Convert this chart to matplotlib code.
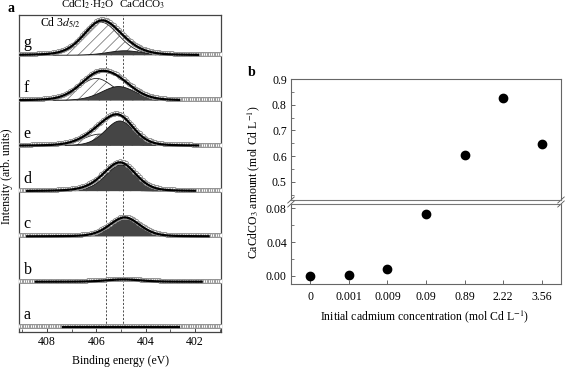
"""
Cd 3d5/2 XPS spectra (a-g) and CaCdCO3 amount vs. initial Cd concentration.
"""
import numpy as np
import matplotlib
matplotlib.use('Agg')
import matplotlib.pyplot as plt

plt.rcParams['font.family'] = ['Liberation Serif', 'DejaVu Serif']
plt.rcParams['mathtext.fontset'] = 'stix'
plt.rcParams['hatch.linewidth'] = 0.5

# ---- panel a: fitted XPS components (peak centre eV, height arb., sigma eV) ----
samples = ['a', 'b', 'c', 'd', 'e', 'f', 'g']
cl_center = [405.8, 405.8, 405.8, 405.7, 405.85, 406.0, 405.8]
cl_height = [0.0, 0.0, 0.0, 0.09, 0.26, 0.49, 0.73]
cl_sigma = [0.7, 0.7, 0.7, 0.7, 0.7, 0.72, 0.72]
co_center = [404.9, 404.9, 404.85, 405.0, 405.05, 405.1, 404.85]
co_height = [0.0, 0.05, 0.42, 0.58, 0.55, 0.31, 0.10]
co_sigma = [0.7, 0.7, 0.62, 0.62, 0.6, 0.7, 0.7]
fit_lo = [402.6, 401.7, 401.45, 402.0, 401.85, 402.6, 401.85]
fit_hi = [407.35, 408.5, 408.8, 408.8, 409.1, 409.1, 409.1]
ref_lines = [405.6, 404.9]

# ---- panel b ----
conc_labels = ['0', '0.001', '0.009', '0.09', '0.89', '2.22', '3.56']
cacdco3 = [0.000, 0.001, 0.008, 0.073, 0.604, 0.826, 0.648]


def peak(x, c, h, s, m=0.25):
    # pseudo-Voigt line shape
    g = np.exp(-(x - c) ** 2 / (2 * s ** 2))
    w = s * 1.1774
    l = 1.0 / (1.0 + ((x - c) / w) ** 2)
    return h * ((1 - m) * g + m * l)


fig = plt.figure(figsize=(5.65, 3.67), dpi=100)
spine_c = '#444444'

ax = fig.add_axes([19 / 565, 1 - 332 / 367, 202 / 565, 317 / 367])
ax.set_xlim(409.13, 400.95)
ax.set_ylim(-0.11, 6.89)

e_data = np.arange(409.15, 400.9, -0.07)
for k, lab in enumerate(samples):
    cl = peak(e_data, cl_center[k], cl_height[k], cl_sigma[k])
    co = peak(e_data, co_center[k], co_height[k], co_sigma[k])
    env = cl + co
    if cl_height[k] > 0:
        ax.fill_between(e_data, k, k + cl, facecolor='white', edgecolor='#666666',
                        hatch='///', linewidth=0, zorder=2)
        ax.plot(e_data, k + cl, color='#222222', lw=0.6, zorder=3)
    if co_height[k] > 0:
        ax.fill_between(e_data, k, k + co, facecolor='#454545', edgecolor='none', zorder=3)
        ax.plot(e_data, k + co, color='#111111', lw=0.6, zorder=3)
    ax.plot(e_data, k + env + 0.02, 'o', ms=3, mfc='white', mec='#8a8a8a', mew=0.6, zorder=4)
    sel = (e_data >= fit_lo[k]) & (e_data <= fit_hi[k])
    ax.plot(e_data[sel], k + env[sel], color='black', lw=1.6, zorder=5)
    ax.text(408.95, k + 0.27, lab, fontsize=11.5, ha='left', va='center', zorder=6)

for xv in ref_lines:
    ax.plot([xv, xv], [0, 6.89], color='#333333', lw=0.6, ls=(0, (2.5, 2)), zorder=1)

ax.text(408.28, 6.71, 'Cd 3$d_{5/2}$', fontsize=8.5, ha='left', va='center')
ax.text(406.35, 1 + 10 / 317, 'CdCl$_2$$\\cdot$H$_2$O', fontsize=8, ha='center', va='center',
        transform=ax.get_xaxis_transform())
ax.text(404.15, 1 + 10 / 317, 'CaCdCO$_3$', fontsize=8, ha='center', va='center',
        transform=ax.get_xaxis_transform())

ax.set_xticks([408, 406, 404, 402])
ax.set_xticks(np.arange(401, 409.5, 1), minor=True)
ax.set_yticks([])
ax.tick_params(axis='x', direction='in', length=3.5, width=0.7, labelsize=8.5,
               colors=spine_c, labelcolor='black', pad=3)
ax.tick_params(axis='x', which='minor', direction='in', length=2, width=0.6, colors=spine_c)
for s in ax.spines.values():
    s.set_color(spine_c)
    s.set_linewidth(0.9)
ax.set_xlabel('Binding energy (eV)', fontsize=8.5)
ax.xaxis.set_label_coords(0.5, -0.072)
ax.set_ylabel('Intensity (arb. units)', fontsize=8.5)
ax.yaxis.set_label_coords(-0.03, 0.49)
fig.text(7 / 565, 1 - 8 / 367, 'a', fontsize=10, fontweight='bold', ha='left', va='center')

# ---- panel b: broken y axis ----
left_b = 291 / 565
w_b = 270 / 565
ax_hi = fig.add_axes([left_b, 1 - 200 / 367, w_b, 121 / 367])
ax_lo = fig.add_axes([left_b, 1 - 284 / 367, w_b, 80 / 367])
x = np.arange(len(conc_labels))
for a_ in (ax_hi, ax_lo):
    a_.plot(x, cacdco3, 'o', color='black', ms=6)
    a_.set_xlim(-0.5, 6.5)
    for s in a_.spines.values():
        s.set_color('#666666')
        s.set_linewidth(0.8)
    a_.tick_params(direction='in', labelsize=8.5, colors='#666666', labelcolor='black',
                   length=3, width=0.7, pad=3)
    a_.tick_params(which='minor', direction='in', length=1.8, width=0.6, colors='#666666')

ax_hi.set_ylim(0.43, 0.9)
ax_hi.set_yticks([0.5, 0.6, 0.7, 0.8, 0.9])
ax_hi.set_yticklabels(['0.5', '0.6', '0.7', '0.8', '0.9'])
ax_hi.set_yticks(np.arange(0.45, 0.9, 0.05), minor=True)
ax_hi.set_xticks([])
ax_hi.spines['bottom'].set_linestyle((0, (1, 1)))
ax_hi.spines['bottom'].set_color('#777777')

ax_lo.set_ylim(-0.0098, 0.0851)
ax_lo.set_yticks([0.0, 0.04, 0.08])
ax_lo.set_yticklabels(['0.00', '0.04', '0.08'])
ax_lo.set_yticks([0.02, 0.06], minor=True)
ax_lo.set_xticks(x)
ax_lo.set_xticklabels(conc_labels)
ax_lo.tick_params(axis='x', pad=5)
ax_lo.spines['top'].set_linestyle((0, (1, 1)))
ax_lo.spines['top'].set_color('#777777')

# break marks
for a_, yb, dy in ((ax_hi, 0.0, 0.025), (ax_lo, 1.0, 0.038)):
    for xb in (0.0, 1.0):
        a_.plot([xb - 0.012, xb + 0.012], [yb - dy, yb + dy],
                transform=a_.transAxes, color='#555555', lw=0.6, clip_on=False)

fig.text(254 / 565, 1 - 182 / 367, 'CaCdCO$_3$ amount (mol Cd L$^{-1}$)', fontsize=8.5,
         rotation=90, ha='center', va='center')
fig.text(425 / 565, 1 - 317 / 367, 'Initial cadmium concentration (mol Cd L$^{-1}$)',
         fontsize=8.5, ha='center', va='center')
fig.text(248 / 565, 1 - 72 / 367, 'b', fontsize=10, fontweight='bold', ha='left', va='center')

fig.savefig('out.png', dpi=100)
plt.close(fig)
